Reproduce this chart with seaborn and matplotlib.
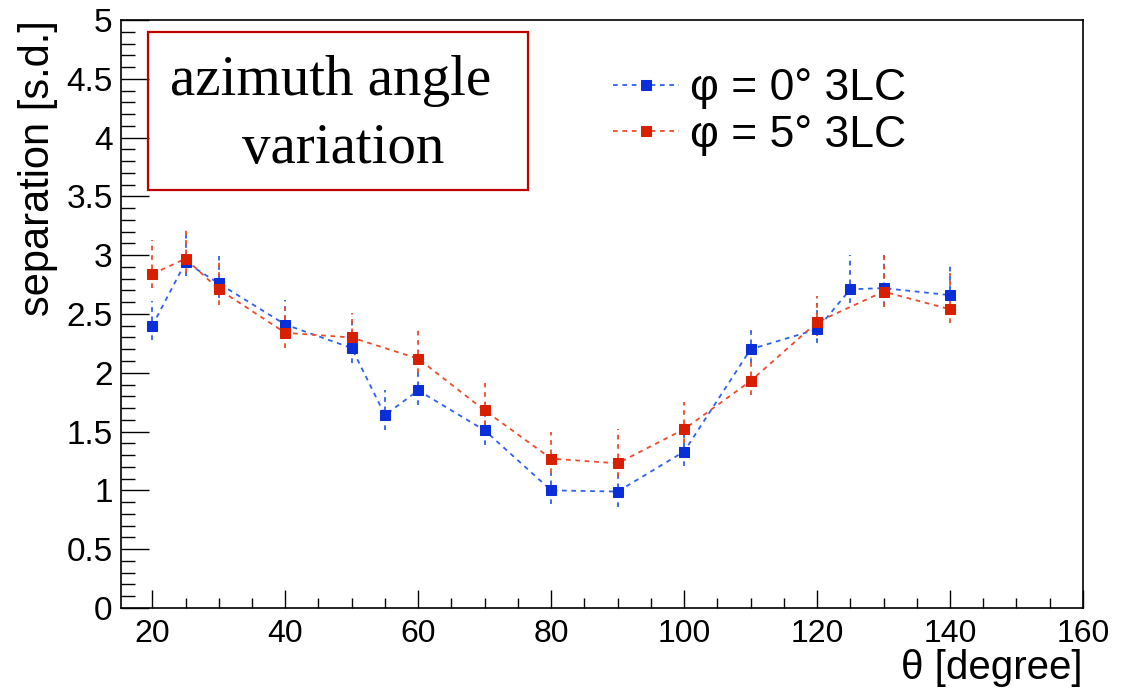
import matplotlib
matplotlib.use("Agg")
import matplotlib.pyplot as plt
import matplotlib.patches as mpatches
from matplotlib.ticker import MultipleLocator
import seaborn as sns
import pandas as pd

# ============================================================
# DATA
# ============================================================

theta_0 = [20, 25, 30, 40, 50, 55, 60, 70, 80, 90, 100, 110, 120, 125, 130, 140]
sep_0 = [2.40, 2.94, 2.76, 2.41, 2.21, 1.64, 1.85, 1.51, 1.00, 0.99, 1.33, 2.20, 2.37, 2.71, 2.72, 2.66]
err_up_0 = [0.21, 0.24, 0.23, 0.21, 0.26, 0.21, 0.18, 0.22, 0.15, 0.17, 0.18, 0.20, 0.22, 0.29, 0.28, 0.28]
err_lo_0 = [0.12, 0.12, 0.12, 0.12, 0.13, 0.13, 0.12, 0.12, 0.12, 0.13, 0.12, 0.12, 0.12, 0.12, 0.15, 0.12]

theta_5 = [20, 25, 30, 40, 50, 60, 70, 80, 90, 100, 110, 120, 130, 140]
sep_5 = [2.84, 2.97, 2.71, 2.34, 2.30, 2.12, 1.68, 1.27, 1.23, 1.52, 1.93, 2.43, 2.69, 2.54]
err_up_5 = [0.29, 0.25, 0.25, 0.22, 0.21, 0.27, 0.23, 0.23, 0.29, 0.23, 0.20, 0.22, 0.32, 0.31]
err_lo_5 = [0.12, 0.12, 0.13, 0.13, 0.12, 0.12, 0.12, 0.12, 0.12, 0.12, 0.12, 0.12, 0.13, 0.12]

labels = ["φ = 0° 3LC", "φ = 5° 3LC"]
box_lines = ["azimuth angle ", "variation"]

# ============================================================
# STYLE
# ============================================================

sns.set_theme(style="white", rc={
    "text.color": "black",
    "axes.labelcolor": "black",
    "xtick.color": "black",
    "ytick.color": "black",
})
plt.rcParams["font.family"] = ["Liberation Sans", "DejaVu Sans"]

fig = plt.figure(figsize=(11.24, 6.89), dpi=100)
ax = fig.add_axes([0.1077, 0.1176, 0.8558, 0.8534])

series = [
    (theta_0, sep_0, err_lo_0, err_up_0, "#0a2fd8", "#3060f0", labels[0]),
    (theta_5, sep_5, err_lo_5, err_up_5, "#d82000", "#f04a2a", labels[1]),
]

dash = (0, (2.6, 2.6))

for th, sp, elo, eup, mcol, lcol, lab in series:
    df = pd.DataFrame({"theta": th, "sep": sp})
    eb = ax.errorbar(th, sp, yerr=[elo, eup], fmt="none", ecolor=lcol,
                     elinewidth=1.3, capsize=0, zorder=2)
    for coll in eb[2]:
        coll.set_linestyle(dash)
    sns.lineplot(data=df, x="theta", y="sep", ax=ax, color=lcol,
                 linestyle=dash, linewidth=1.3, marker="s", markersize=7,
                 markerfacecolor=mcol, markeredgecolor=mcol, label=lab,
                 zorder=3)

# ============================================================
# AXES
# ============================================================

ax.set_xlim(15.3, 160)
ax.set_ylim(0, 5)
ax.xaxis.set_major_locator(MultipleLocator(20))
ax.xaxis.set_minor_locator(MultipleLocator(5))
ax.yaxis.set_major_locator(MultipleLocator(0.5))
ax.yaxis.set_minor_locator(MultipleLocator(0.1))
ax.set_yticklabels([f"{v:g}" for v in ax.get_yticks()])

ax.tick_params(axis="y", which="major", direction="in", length=20, width=1,
               labelsize=24, pad=6, left=True)
ax.tick_params(axis="y", which="minor", direction="in", length=10, width=1, left=True)
ax.tick_params(axis="x", which="major", direction="in", length=13, width=1,
               labelsize=23, pad=8, bottom=True)
ax.tick_params(axis="x", which="minor", direction="in", length=7, width=1, bottom=True)

for sp in ax.spines.values():
    sp.set_color("black")
    sp.set_linewidth(1.2)

ax.set_xlabel("θ [degree]", fontsize=29, loc="right", labelpad=0)
ax.set_ylabel("separation [s.d.]", fontsize=30, loc="top", labelpad=6)

# ============================================================
# LEGEND + TEXT BOX
# ============================================================

leg = ax.legend(loc="center left", bbox_to_anchor=(0.511, 0.8435), frameon=False,
                fontsize=32, handlelength=1.5, handletextpad=0.25,
                labelspacing=0.13, borderaxespad=0, borderpad=0)

box = mpatches.Rectangle((0.028, 0.711), 0.395, 0.269, transform=ax.transAxes,
                         fill=False, edgecolor="#c00000", linewidth=1.6, zorder=5)
ax.add_patch(box)
ax.text(0.225, 0.896, box_lines[0], transform=ax.transAxes, ha="center",
        va="center", fontsize=41, family=["Liberation Serif", "DejaVu Serif"])
ax.text(0.2305, 0.780, box_lines[1], transform=ax.transAxes, ha="center",
        va="center", fontsize=41, family=["Liberation Serif", "DejaVu Serif"])

fig.savefig("out.png", dpi=100)
